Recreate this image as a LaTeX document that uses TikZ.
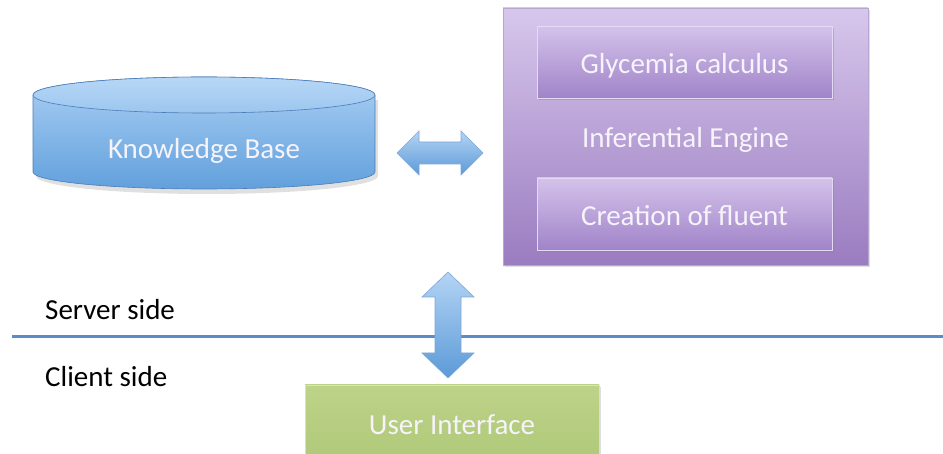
\documentclass[tikz,border=0pt]{standalone}
\usepackage{fontspec}
\setmainfont{Carlito}
\usetikzlibrary{shadows}
\definecolor{cylT}{HTML}{A9CFF4}
\definecolor{cylB}{HTML}{62A0DC}
\definecolor{cylTopT}{HTML}{B7D8F6}
\definecolor{cylTopB}{HTML}{9CC6EF}
\definecolor{cylEdge}{HTML}{4B7DB8}
\definecolor{purT}{HTML}{D7C7EC}
\definecolor{purB}{HTML}{9A7CC0}
\definecolor{purEdge}{HTML}{B7A6CF}
\definecolor{inT}{HTML}{D4C2EB}
\definecolor{inB}{HTML}{A084C8}
\definecolor{grnT}{HTML}{BDD389}
\definecolor{grnB}{HTML}{AFC878}
\definecolor{arrT}{HTML}{B4D4F4}
\definecolor{arrB}{HTML}{5C9AD8}
\definecolor{arrEdge}{HTML}{7FA8D6}
\definecolor{sepLine}{HTML}{5A8CC6}
\definecolor{txtW}{HTML}{F6F3FA}
\begin{document}
\begin{tikzpicture}[x=1pt,y=-1pt,
  lbl/.style={font=\fontsize{29}{34}\selectfont, text=txtW, inner sep=0pt, anchor=base},
  sidelbl/.style={font=\fontsize{29}{34}\selectfont, text=black, inner sep=0pt, anchor=base west},
  bigbox/.style={draw=purEdge, line width=0.6pt, top color=purT, bottom color=purB,
    drop shadow={opacity=0.25, shadow xshift=1.5pt, shadow yshift=-2pt},
    inner sep=0pt},
  subbox/.style={draw=inT!60!white, line width=0.6pt, top color=inT, bottom color=inB,
    drop shadow={opacity=0.35, shadow xshift=1.5pt, shadow yshift=-2.5pt},
    inner sep=0pt, minimum width=295pt, minimum height=72pt},
  uibox/.style={draw=grnT!60!white, line width=0.6pt, top color=grnT, bottom color=grnB,
    drop shadow={opacity=0.25, shadow xshift=1.5pt, shadow yshift=-2pt},
    inner sep=0pt, minimum width=294pt, minimum height=80pt},
  blockarrow/.style={draw=arrEdge, line width=0.6pt, top color=arrT, bottom color=arrB}
]
\clip (0,0) rectangle (943,454);
\useasboundingbox (0,0) rectangle (943,454);
\fill[white] (0,0) rectangle (943,454);

% Knowledge base cylinder
\fill[black, opacity=0.12] (36,100) -- (36,176) arc[start angle=180, end angle=0, x radius=171, y radius=18] -- (378,100) -- cycle;
\shade[top color=cylT, bottom color=cylB, draw=cylEdge, line width=0.6pt]
  (33,95) -- (33,172) arc[start angle=180, end angle=0, x radius=171, y radius=17]
  -- (375,95) arc[start angle=360, end angle=180, x radius=171, y radius=18] -- cycle;
\shade[top color=cylTopT, bottom color=cylTopB, draw=cylEdge, line width=0.6pt]
  (204,95) ellipse[x radius=171, y radius=18];
\node[lbl] (kb) at (204,159) {Knowledge Base};

% Inferential engine
\node[bigbox, minimum width=365pt, minimum height=257pt] (ie) at (685.5,136.5) {};
\node[lbl] (iet) at (685.5,148) {Inferential Engine};
\node[subbox] (gc) at (684.5,62) {};
\node[lbl] (gct) at (684.5,73.5) {Glycemia calculus};
\node[subbox] (cf) at (684.5,214) {};
\node[lbl] (cft) at (684.5,226) {Creation of fluent};

% horizontal double arrow
\coordinate (hL) at (397,153);
\coordinate (hR) at (483,153);
\shade[blockarrow] (hL) -- ++(22,-22) -- ++(0,11) -- ++(42,0) -- ++(0,-11) -- (hR)
  -- ++(-22,22) -- ++(0,-11) -- ++(-42,0) -- ++(0,11) -- cycle;

% separator line
\coordinate (sL) at (12,337);
\coordinate (sR) at (943,337);
\draw[sepLine, line width=3pt] (sL) -- (sR);

% vertical double arrow
\coordinate (vT) at (448,272);
\coordinate (vB) at (448,378);
\shade[blockarrow] (vT) -- ++(26,25) -- ++(-13,0) -- ++(0,56) -- ++(13,0) -- (vB)
  -- ++(-26,-25) -- ++(13,0) -- ++(0,-56) -- ++(-13,0) -- cycle;

% side labels
\node[sidelbl] (srv) at (45,320) {Server side};
\node[sidelbl] (cli) at (45,387) {Client side};

% user interface
\node[uibox] (uib) at (452,425) {};
\node[lbl] (ui) at (452,434) {User Interface};
\end{tikzpicture}
\end{document}
